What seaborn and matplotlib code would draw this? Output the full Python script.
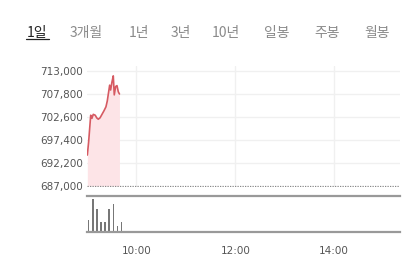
import matplotlib
matplotlib.use("Agg")
import matplotlib.pyplot as plt
import seaborn as sns
import pandas as pd

# ---- data ----
tabs = ["1일", "3개월", "1년", "3년", "10년", "일봉", "주봉", "월봉"]
tab_x = [37, 86.5, 138.5, 180.5, 225.5, 276.5, 327.5, 377.5]

price_min = [540.4, 542, 544.5, 546, 547.6, 550, 551.8, 553.7, 555.8, 558.2, 560.6,
             563, 564.6, 566.3, 567.5, 568.7, 570.3, 571.9, 573.1, 574.8, 576.4, 578, 579.4]
price_val = [694000, 697000, 703000, 702300, 703200, 703000, 702400, 702100, 702400,
             703200, 704000, 704900, 706200, 708300, 709800, 708700, 710500, 711900,
             707600, 709500, 709700, 708300, 707800]

vol_min = [542, 547, 552, 557, 562, 567, 572, 577, 582]
vol_val = [1200, 3300, 2300, 1000, 1000, 2300, 2800, 600, 1000]

yticks = [687000, 692200, 697400, 702600, 707800, 713000]
xticks = [600, 720, 840]
xticklabels = ["10:00", "12:00", "14:00"]

W, H = 417, 276
fig = plt.figure(figsize=(W / 100, H / 100), dpi=100)
sns.set_style("white")
plt.rcParams['font.family'] = ['Noto Sans CJK KR', 'DejaVu Sans']

def ax_rect(x0, y0, x1, y1):
    return [x0 / W, (H - y1) / H, (x1 - x0) / W, (y1 - y0) / H]

xmin, xmax = 540, 920

# price panel
ax = fig.add_axes(ax_rect(87, 66, 400, 187))
df = pd.DataFrame({"t": price_min, "p": price_val})
ax.fill_between(df["t"], df["p"], 687000, color="#fde4e7", lw=0, zorder=1)
sns.lineplot(data=df, x="t", y="p", ax=ax, color="#d65a62", lw=1.2, zorder=3)
ax.set_xlim(xmin, xmax)
ax.set_ylim(686774, 714130)
for y in yticks[1:]:
    ax.axhline(y, color="#f0f0f0", lw=1, zorder=0)
for x in xticks:
    ax.axvline(x, color="#f0f0f0", lw=1, zorder=0)
ax.axhline(687000, color="#888888", lw=0.9, ls=(0, (1, 1)), zorder=2)
ax.set_yticks(yticks)
ax.set_yticklabels([f"{v:,}" for v in yticks], fontsize=7.5, color="#555555",
                   family="DejaVu Sans")
ax.tick_params(axis="y", length=0, pad=3)
ax.set_xticks([])
ax.set_xlabel("")
ax.set_ylabel("")
for s in ax.spines.values():
    s.set_visible(False)

# volume panel
av = fig.add_axes(ax_rect(87, 196, 400, 232))
av.bar(vol_min, vol_val, width=1.8, color="#777777", lw=0)
av.set_xlim(xmin, xmax)
av.set_ylim(0, 3600)
av.set_yticks([])
av.set_xticks(xticks)
av.set_xticklabels(xticklabels, fontsize=7.5, color="#555555", family="DejaVu Sans")
av.tick_params(axis="x", length=4, color="#999999", pad=6)
for k in ["left", "right"]:
    av.spines[k].set_visible(False)
for k in ["top", "bottom"]:
    av.spines[k].set_color("#999999")
    av.spines[k].set_linewidth(1.6)

# tabs
for i, (t, x) in enumerate(zip(tabs, tab_x)):
    fig.text(x / W, (H - 32.5) / H, t, ha="center", va="center", fontsize=10,
             color="#222222" if i == 0 else "#8a8a8a", fontweight="light")
fig.add_artist(plt.Line2D([26 / W, 48.5 / W], [(H - 39) / H] * 2,
                          color="#222222", lw=0.9))

fig.savefig("out.png", dpi=100)
